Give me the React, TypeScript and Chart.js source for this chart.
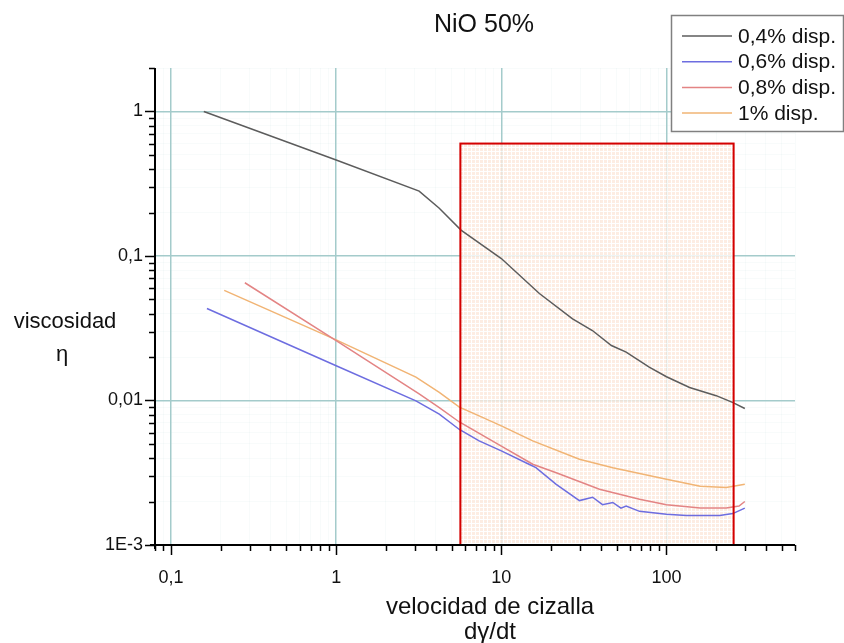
import React, { useEffect, useRef } from 'react';
import { Chart, registerables } from 'chart.js';

Chart.register(...registerables);

const FONT = '"Liberation Sans", Arial, Helvetica, sans-serif';

// Series: shear rate (1/s) and viscosity for each dispersant content
const seriesLabels = ['0,4% disp.', '0,6% disp.', '0,8% disp.', '1% disp.'];
const seriesColors = ['#5c5c5c', '#6d6de0', '#e38484', '#f1b474'];

const shear04 = [0.158, 1, 3.18, 4.21, 5.7, 10, 17, 27, 35.6, 46.4, 57, 78.6, 100, 138, 200, 251, 298];
const visc04 = [1.0, 0.462, 0.281, 0.214, 0.151, 0.096, 0.055, 0.0367, 0.0305, 0.024, 0.0216, 0.017, 0.0146, 0.0123, 0.0108, 0.0097, 0.0088];

const shear06 = [0.165, 1, 3.04, 4.21, 5.57, 7.34, 10, 14.7, 16.2, 21.5, 29.7, 35.7, 41, 47.3, 53, 57, 68.7, 100, 132, 210, 252, 298];
const visc06 = [0.0433, 0.0174, 0.00995, 0.00805, 0.0063, 0.00525, 0.00448, 0.00362, 0.00343, 0.00263, 0.00203, 0.00214, 0.0019, 0.00197, 0.0018, 0.00186, 0.00171, 0.00163, 0.0016, 0.0016, 0.00165, 0.0018];

const shear08 = [0.28, 1, 3.18, 4.21, 5.57, 10, 15.5, 21.5, 39.3, 68.7, 100, 160, 230, 275, 298];
const visc08 = [0.0653, 0.026, 0.0111, 0.00894, 0.0071, 0.00484, 0.00362, 0.00316, 0.00243, 0.00207, 0.0019, 0.0018, 0.0018, 0.00186, 0.002];

const shear10 = [0.21, 1, 3.04, 4.21, 5.57, 7.34, 10, 15.5, 29.7, 47.3, 100, 160, 230, 298];
const visc10 = [0.0578, 0.0263, 0.0145, 0.0114, 0.009, 0.00783, 0.00667, 0.00525, 0.00392, 0.00343, 0.00285, 0.00255, 0.0025, 0.00263];

const seriesShear = [shear04, shear06, shear08, shear10];
const seriesVisc = [visc04, visc06, visc08, visc10];

// Axes
const xRange = [0.08, 600];
const yRange = [0.001, 2];
const xTickValues = [0.1, 1, 10, 100];
const xTickLabels = ['0,1', '1', '10', '100'];
const yTickValues = [0.001, 0.01, 0.1, 1];
const yTickLabels = ['1E-3', '0,01', '0,1', '1'];

// Highlighted working zone
const zoneShear = [5.65, 255];
const zoneVisc = [0.001, 0.6];

const titleText = 'NiO 50%';
const xTitleLines = ['velocidad de cizalla', 'd\u03b3/dt'];
const yTitleLines = ['viscosidad', '\u03b7'];

const GRID = '#a4cbcb';
const GRID_MINOR = 'rgba(164,203,203,0.08)';

function isDecade(v: number) {
  const l = Math.log10(v);
  return Math.abs(l - Math.round(l)) < 1e-6;
}

function logTicks(min: number, max: number) {
  const out: number[] = [];
  for (let d = Math.floor(Math.log10(min)); d <= Math.ceil(Math.log10(max)); d++) {
    for (let m = 1; m <= 9; m++) {
      const v = parseFloat((m * Math.pow(10, d)).toPrecision(6));
      if (v >= min * 0.9999 && v <= max * 1.0001) out.push(v);
    }
  }
  return out;
}

function labelFor(v: number, values: number[], labels: string[]) {
  const i = values.findIndex((t) => Math.abs(t - v) / t < 1e-6);
  return i >= 0 ? labels[i] : '';
}

function makePattern(ctx: CanvasRenderingContext2D) {
  const tile = document.createElement('canvas');
  tile.width = 4;
  tile.height = 4;
  const t = tile.getContext('2d')!;
  t.fillStyle = '#ffffff';
  t.fillRect(0, 0, 4, 4);
  t.fillStyle = '#fde9dc';
  t.fillRect(0, 0, 3, 3);
  return ctx.createPattern(tile, 'repeat');
}

const decorPlugin = {
  id: 'decor',
  beforeDatasetsDraw(chart: any) {
    const { ctx, scales } = chart;
    const x0 = scales.x.getPixelForValue(zoneShear[0]);
    const x1 = scales.x.getPixelForValue(zoneShear[1]);
    const y0 = scales.y.getPixelForValue(zoneVisc[1]);
    const y1 = scales.y.getPixelForValue(zoneVisc[0]);
    ctx.save();
    ctx.globalAlpha = 0.8;
    ctx.fillStyle = makePattern(ctx) || '#fdf1e8';
    ctx.fillRect(x0, y0, x1 - x0, y1 - y0);
    ctx.restore();
  },
  afterDatasetsDraw(chart: any) {
    const { ctx, scales, chartArea } = chart;
    const { left, right, top, bottom } = chartArea;
    ctx.save();

    // zone outline
    const x0 = scales.x.getPixelForValue(zoneShear[0]);
    const x1 = scales.x.getPixelForValue(zoneShear[1]);
    const y0 = scales.y.getPixelForValue(zoneVisc[1]);
    const y1 = scales.y.getPixelForValue(zoneVisc[0]);
    ctx.strokeStyle = '#d40000';
    ctx.lineWidth = 2;
    ctx.strokeRect(x0, y0, x1 - x0, y1 - y0);

    // axis lines
    ctx.strokeStyle = '#000';
    ctx.lineWidth = 2;
    ctx.beginPath();
    ctx.moveTo(left, top);
    ctx.lineTo(left, bottom + 4);
    ctx.moveTo(left - 5, bottom);
    ctx.lineTo(right, bottom);
    ctx.stroke();

    // tick marks
    ctx.lineWidth = 1.5;
    ctx.beginPath();
    logTicks(xRange[0], xRange[1]).forEach((v) => {
      const px = Math.round(scales.x.getPixelForValue(v)) + 0.5;
      const len = isDecade(v) ? 10 : 6;
      ctx.moveTo(px, bottom);
      ctx.lineTo(px, bottom + len);
    });
    logTicks(yRange[0], yRange[1]).forEach((v) => {
      const py = Math.round(scales.y.getPixelForValue(v)) + 0.5;
      const len = isDecade(v) ? 10 : 6;
      ctx.moveTo(left, py);
      ctx.lineTo(left - len, py);
    });
    ctx.stroke();

    // titles
    ctx.fillStyle = '#111';
    ctx.textAlign = 'center';
    ctx.textBaseline = 'middle';
    ctx.font = `25px ${FONT}`;
    ctx.fillText(titleText, 484, 25);
    ctx.font = `24px ${FONT}`;
    ctx.fillText(xTitleLines[0], 490, 607);
    ctx.fillText(xTitleLines[1], 490, 632);
    ctx.font = `22px ${FONT}`;
    ctx.fillText(yTitleLines[0], 65, 322);
    ctx.fillText(yTitleLines[1], 62, 355);

    // legend
    const bx = 671.5, by = 15.5, bw = 172, bh = 116;
    ctx.fillStyle = '#fff';
    ctx.fillRect(bx, by, bw, bh);
    ctx.strokeStyle = '#808080';
    ctx.lineWidth = 1.5;
    ctx.strokeRect(bx, by, bw, bh);
    ctx.font = `21px ${FONT}`;
    ctx.textAlign = 'left';
    seriesLabels.forEach((lab, i) => {
      const yy = 36 + i * 25.7;
      ctx.strokeStyle = seriesColors[i];
      ctx.lineWidth = 1.5;
      ctx.beginPath();
      ctx.moveTo(682, yy);
      ctx.lineTo(732, yy);
      ctx.stroke();
      ctx.fillStyle = '#111';
      ctx.fillText(lab, 738, yy + 1);
    });
    ctx.restore();
  },
};

export default function App() {
  const ref = useRef<HTMLCanvasElement>(null);

  useEffect(() => {
    if (!ref.current) return;
    const chart = new Chart(ref.current, {
      type: 'scatter',
      data: {
        datasets: seriesLabels.map((label, i) => ({
          label,
          data: seriesShear[i].map((x, j) => ({ x, y: seriesVisc[i][j] })),
          showLine: true,
          borderColor: seriesColors[i],
          backgroundColor: seriesColors[i],
          borderWidth: 1.5,
          pointRadius: 0,
          tension: 0,
          fill: false,
        })),
      },
      options: {
        animation: false,
        responsive: false,
        devicePixelRatio: 1,
        layout: { padding: { left: 0, top: 68, right: 49, bottom: 0 } },
        plugins: {
          legend: { display: false },
          title: { display: false },
          tooltip: { enabled: false },
        },
        scales: {
          x: {
            type: 'logarithmic',
            min: xRange[0],
            max: xRange[1],
            afterBuildTicks: (scale: any) => {
              scale.ticks = logTicks(xRange[0], xRange[1]).map((value) => ({ value }));
            },
            afterFit: (scale: any) => {
              scale.height = 98;
            },
            ticks: {
              autoSkip: false,
              maxRotation: 0,
              minRotation: 0,
              padding: 22,
              color: '#111',
              font: { family: FONT, size: 18 },
              callback: (v: any) => labelFor(Number(v), xTickValues, xTickLabels),
            },
            grid: {
              drawTicks: false,
              color: (c: any) => (c.tick && isDecade(c.tick.value) ? GRID : GRID_MINOR),
              lineWidth: (c: any) => (c.tick && isDecade(c.tick.value) ? 1.5 : 1),
            },
            border: { display: false },
          },
          y: {
            type: 'logarithmic',
            min: yRange[0],
            max: yRange[1],
            afterBuildTicks: (scale: any) => {
              scale.ticks = logTicks(yRange[0], yRange[1]).map((value) => ({ value }));
            },
            afterFit: (scale: any) => {
              scale.width = 155;
            },
            ticks: {
              autoSkip: false,
              padding: 12,
              color: '#111',
              font: { family: FONT, size: 18 },
              callback: (v: any) => labelFor(Number(v), yTickValues, yTickLabels),
            },
            grid: {
              drawTicks: false,
              color: (c: any) => (c.tick && isDecade(c.tick.value) ? GRID : GRID_MINOR),
              lineWidth: (c: any) => (c.tick && isDecade(c.tick.value) ? 1.5 : 1),
            },
            border: { display: false },
          },
        },
      },
      plugins: [decorPlugin],
    });
    return () => chart.destroy();
  }, []);

  return (
    <div style={{ position: 'fixed', left: 0, top: 0, width: 844, height: 643, background: '#fff' }}>
      <canvas ref={ref} width={844} height={643} style={{ width: 844, height: 643, display: 'block' }} />
    </div>
  );
}
